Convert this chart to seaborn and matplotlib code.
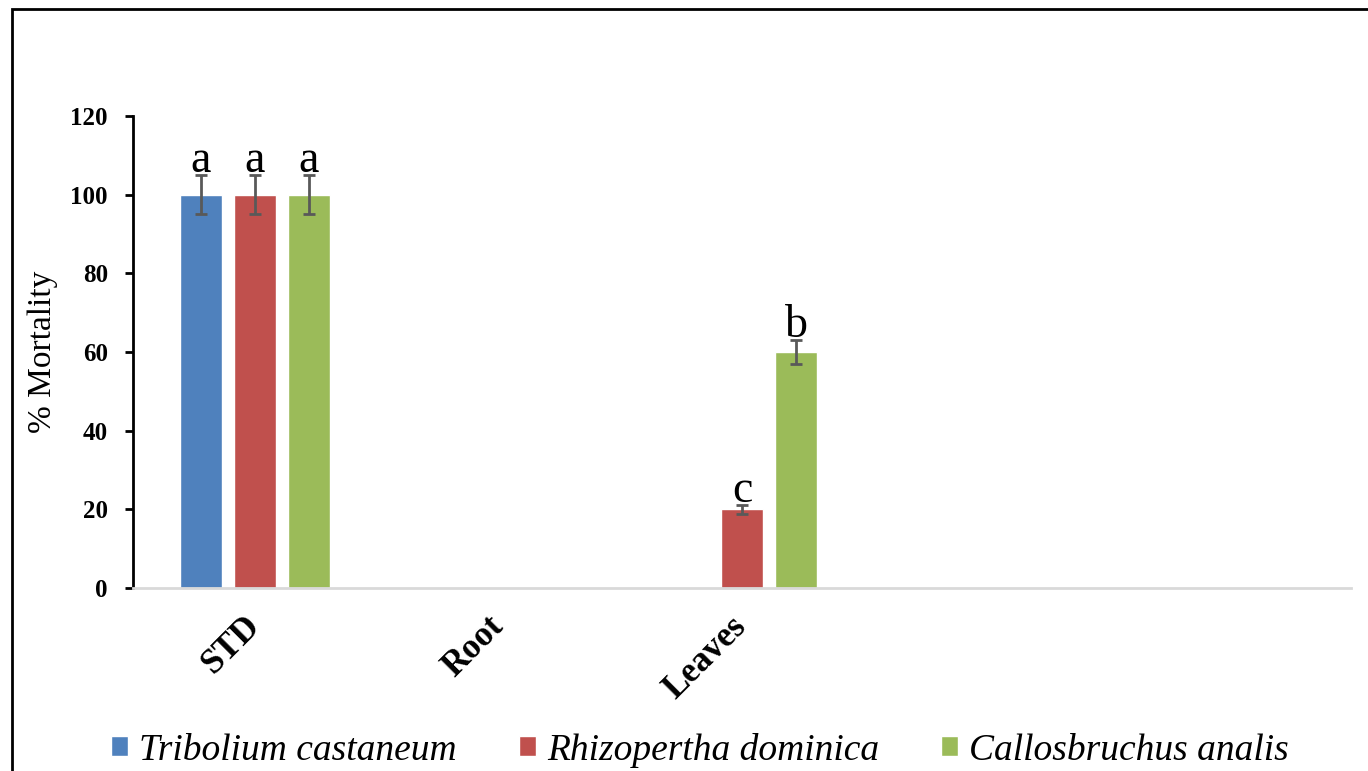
import numpy as np
import pandas as pd
import matplotlib
matplotlib.use('Agg')
import matplotlib.pyplot as plt
import matplotlib.patches as mpatches
import seaborn as sns

# Du lieu doc tu bieu do
categories = ['STD', 'Root', 'Leaves']
species = ['Tribolium castaneum', 'Rhizopertha dominica', 'Callosbruchus analis']
tribolium = [100, 0, 0]
rhizopertha = [100, 0, 20]
callosbruchus = [100, 0, 60]
err_tribolium = [5, 0, 0]
err_rhizopertha = [5, 0, 1.2]
err_callosbruchus = [5, 0, 3]
let_tribolium = ['a', '', '']
let_rhizopertha = ['a', '', 'c']
let_callosbruchus = ['a', '', 'b']
colors = ['#4F81BD', '#C0504D', '#9BBB59']

values = [tribolium, rhizopertha, callosbruchus]
errors = [err_tribolium, err_rhizopertha, err_callosbruchus]
letters = [let_tribolium, let_rhizopertha, let_callosbruchus]

df = pd.DataFrame({
    'cat': np.repeat([categories], len(species), axis=0).ravel(),
    'species': np.repeat(species, len(categories)),
    'value': np.concatenate(values),
})

sns.set_theme(style='white')
plt.rcParams['font.family'] = ['Liberation Serif', 'DejaVu Serif']
plt.rcParams.update({
    'text.color': 'black',
    'axes.labelcolor': 'black',
    'xtick.color': 'black',
    'ytick.color': 'black',
})

fig = plt.figure(figsize=(13.68, 7.71), dpi=100)
ax = fig.add_axes([0.0972, 0.2374, 0.8904, 0.6121])

sns.barplot(data=df, x='cat', y='value', hue='species', order=categories,
            hue_order=species, palette=colors, saturation=1, width=0.665,
            gap=0.22, errorbar=None, ax=ax)

# thanh sai so va chu cai
bar_conts = list(ax.containers)
for i, cont in enumerate(bar_conts):
    for j, bar in enumerate(cont.patches):
        x = bar.get_x() + bar.get_width() / 2
        y = bar.get_height()
        e = errors[i][j]
        if e > 0:
            ax.errorbar(x, y, yerr=e, fmt='none', ecolor='#595959',
                        elinewidth=2, capsize=4.5, capthick=2)
        if letters[i][j]:
            ax.annotate(letters[i][j], (x, y + e), xytext=(0, 2),
                        textcoords='offset points', ha='center', va='baseline',
                        fontsize=33, color='black')

ax.set_xlim(-0.5, 4.5)
ax.set_ylim(0, 120)
ax.set_yticks(range(0, 121, 20))
ax.set_xlabel('')
ax.set_ylabel('% Mortality', fontsize=24, labelpad=9)

for lab in ax.get_yticklabels():
    lab.set_fontweight('bold')
ax.tick_params(axis='y', labelsize=18, length=6, width=2, color='black',
               left=True, pad=12)
ax.tick_params(axis='x', length=0, pad=24)
ax.set_xticks(range(len(categories)))
ax.set_xticklabels(categories, rotation=45, ha='right', va='center',
                   rotation_mode='anchor', fontsize=25, fontweight='bold')

sns.despine(ax=ax)
ax.spines['left'].set_color('black')
ax.spines['left'].set_linewidth(2)
ax.spines['bottom'].set_color('#D9D9D9')
ax.spines['bottom'].set_linewidth(2)

sns.move_legend(ax, 'center', bbox_to_anchor=(0.5117, 0.027),
                bbox_transform=fig.transFigure, ncol=3, frameon=False,
                title=None, prop={'style': 'italic', 'size': 27},
                handlelength=0.45, handleheight=0.45, handletextpad=0.3,
                columnspacing=1.65)

# khung vien hinh
fig.patches.append(mpatches.Rectangle((0.009, -0.05), 1.2, 1.0377, fill=False,
                                      lw=2, edgecolor='black',
                                      transform=fig.transFigure))

plt.savefig('out.png', dpi=100)
